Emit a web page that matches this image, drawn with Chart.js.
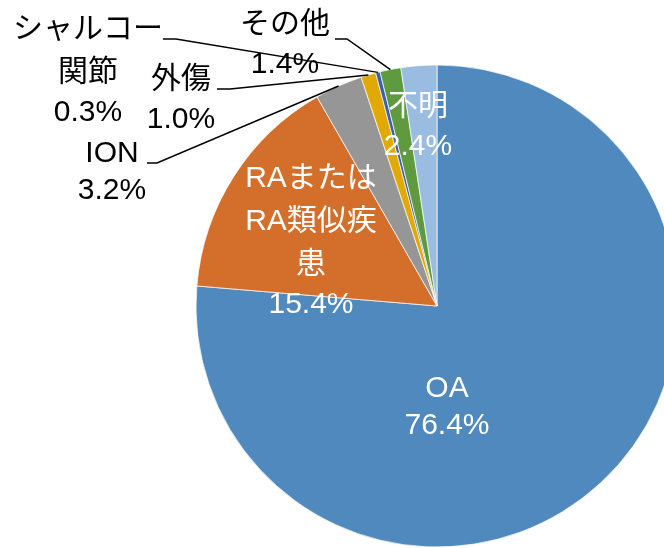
<!DOCTYPE html>
<html>
<head>
<meta charset="utf-8">
<script src="https://cdn.jsdelivr.net/npm/chart.js@4"></script>
<style>
  html, body { margin: 0; padding: 0; background: #fff; overflow: hidden; width: 664px; height: 548px; }
  #wrap { position: absolute; left: 0; top: 0; width: 874px; height: 612px; }
</style>
</head>
<body>
<div id="wrap"><canvas id="chartPie" width="874" height="612"></canvas></div>
<script>
// データ
const categories = ["OA", "RAまたは\nRA類似疾\n患", "ION", "外傷", "シャルコー\n関節", "その他", "不明"];
const shares = [76.4, 15.4, 3.2, 1.0, 0.3, 1.4, 2.4];
const colors = ["#4F89BD", "#D46F2B", "#969696", "#E1A903", "#3B60AE", "#5F9A3F", "#9ABCE1"];

// ラベル位置 (中心x, 1行目のベースライン) とリーダー線
const labelPos = [
  { x: 447, y: 397, color: "#fff" },
  { x: 311, y: 187, color: "#fff" },
  { x: 112, y: 162, color: "#000", leader: [[147, 163], [157, 163]] },
  { x: 181, y: 88, color: "#000", leader: [[217, 89], [230, 89]] },
  { x: 88, y: 38, color: "#000", leader: [[163, 39], [176, 39]] },
  { x: 285, y: 33, color: "#000", leader: [[335, 39], [347, 39]] },
  { x: 418, y: 115, color: "#fff" },
];

const hasCJK = (s) => /[\u3000-\u9fff]/.test(s);
const lineGap = (a, b) => {
  if (hasCJK(a) && hasCJK(b)) return 43;
  if (hasCJK(a) || hasCJK(b)) return 40;
  return 37;
};

const pieLabels = {
  id: "pieLabels",
  afterDatasetsDraw(chart) {
    const ctx = chart.ctx;
    const meta = chart.getDatasetMeta(0);
    ctx.save();
    meta.data.forEach((arc, i) => {
      const pos = labelPos[i];
      const lines = categories[i].split("\n").concat([shares[i].toFixed(1) + "%"]);
      // リーダー線
      if (pos.leader) {
        const p = arc.getProps(["x", "y", "startAngle", "endAngle", "outerRadius"], true);
        const mid = (p.startAngle + p.endAngle) / 2;
        const ex = p.x + Math.cos(mid) * p.outerRadius;
        const ey = p.y + Math.sin(mid) * p.outerRadius;
        ctx.beginPath();
        ctx.moveTo(pos.leader[0][0], pos.leader[0][1]);
        ctx.lineTo(pos.leader[1][0], pos.leader[1][1]);
        ctx.lineTo(ex, ey);
        ctx.strokeStyle = "#000";
        ctx.lineWidth = 1.5;
        ctx.stroke();
      }
      ctx.fillStyle = pos.color;
      ctx.textAlign = "center";
      ctx.textBaseline = "alphabetic";
      ctx.font = '30px "Liberation Sans", Arial, "Noto Sans CJK JP", sans-serif';
      let y = pos.y;
      lines.forEach((line, k) => {
        if (k > 0) y += lineGap(lines[k - 1], line);
        ctx.fillText(line, pos.x, y);
      });
    });
    ctx.restore();
  },
};

new Chart(document.getElementById("chartPie").getContext("2d"), {
  type: "pie",
  data: {
    labels: categories,
    datasets: [
      {
        data: shares,
        backgroundColor: colors,
        borderColor: "rgba(255,255,255,0.7)",
        borderWidth: 1,
      },
    ],
  },
  options: {
    responsive: false,
    animation: false,
    radius: 241,
    layout: { padding: 0 },
    plugins: {
      legend: { display: false },
      tooltip: { enabled: false },
    },
  },
  plugins: [pieLabels],
});
</script>
</body>
</html>
